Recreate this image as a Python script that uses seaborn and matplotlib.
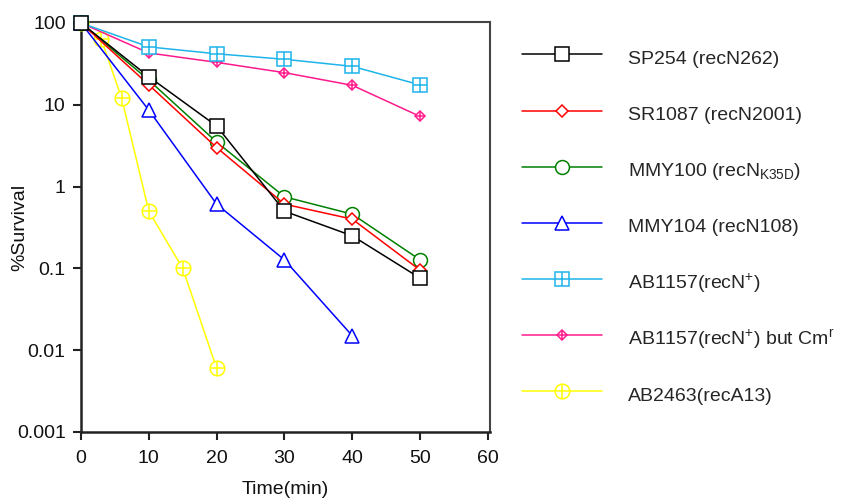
import matplotlib
matplotlib.use("Agg")
import matplotlib.pyplot as plt
from matplotlib.lines import Line2D
import seaborn as sns
import pandas as pd

# ---- data ----
x_six = [0, 10, 20, 30, 40, 50]
sp254 = [100, 22, 5.5, 0.50, 0.25, 0.076]
sr1087 = [100, 17.5, 3.0, 0.61, 0.40, 0.095]
mmy100 = [100, 20, 3.5, 0.75, 0.46, 0.127]
x_mmy104 = [0, 10, 20, 30, 40]
mmy104 = [100, 8.6, 0.61, 0.127, 0.015]
ab1157 = [100, 51, 42, 36, 29.5, 17.5]
ab1157_cm = [100, 43, 33, 24.7, 17.3, 7.2]
x_ab2463 = [0, 3, 6, 10, 15, 20]
ab2463 = [100, 63, 12, 0.5, 0.1, 0.006]

labels = [
    "SP254 (recN262)",
    "SR1087 (recN2001)",
    r"MMY100 (recN$_{\mathregular{K35D}}$)",
    "MMY104 (recN108)",
    r"AB1157(recN$^{\mathregular{+}}$)",
    r"AB1157(recN$^{\mathregular{+}}$) but Cm$^{\mathregular{r}}$",
    "AB2463(recA13)",
]
xs = [x_six, x_six, x_six, x_mmy104, x_six, x_six, x_ab2463]
ys = [sp254, sr1087, mmy100, mmy104, ab1157, ab1157_cm, ab2463]
colors = ["#000000", "#ff0000", "#008000", "#0000ff", "#1eb4ea", "#ff1a8c", "#ffff00"]
markers = ["s", "D", "o", "^", "s", "D", "o"]
msizes = [10.5, 5.8, 10, 9.5, 9.6, 5.2, 10.5]
cross = [False, False, False, False, True, True, True]
tick_vals = [0.001, 0.01, 0.1, 1, 10, 100]
tick_labels = ["0.001", "0.01", "0.1", "1", "10", "100"]
x_ticks = [0, 10, 20, 30, 40, 50, 60]

sns.set_style("ticks")
plt.rcParams["font.family"] = ["Liberation Sans", "DejaVu Sans"]
plt.rcParams["mathtext.fontset"] = "custom"
plt.rcParams["mathtext.rm"] = "Liberation Sans"
plt.rcParams["mathtext.it"] = "Liberation Sans:italic"
plt.rcParams["mathtext.bf"] = "Liberation Sans:bold"

fig = plt.figure(figsize=(8.42, 4.98), dpi=100)
ax = fig.add_axes([81 / 842, 1 - 432 / 498, (490 - 81) / 842, (432 - 22) / 498])

handles = []
order = list(range(len(labels)))[::-1]
for i in order:
    df = pd.DataFrame({"x": xs[i], "y": ys[i]})
    sns.lineplot(data=df, x="x", y="y", ax=ax, color=colors[i], marker=markers[i],
                 markersize=msizes[i], markerfacecolor="white", markeredgecolor=colors[i],
                 markeredgewidth=1.1, linewidth=1.1, sort=False, legend=False,
                 estimator=None, zorder=3 + (len(labels) - i), clip_on=False)
    if cross[i]:
        pm = msizes[i] * (1.414 if markers[i] == "D" else 1.0)
        sns.scatterplot(data=df, x="x", y="y", ax=ax, marker="+", s=pm ** 2,
                        color=colors[i], linewidth=1.1, legend=False,
                        zorder=3.5 + (len(labels) - i), clip_on=False)

for i in range(len(labels)):
    ln = Line2D([], [], color=colors[i], marker=markers[i], markersize=msizes[i],
                markerfacecolor="white", markeredgecolor=colors[i], markeredgewidth=1.1,
                linewidth=1.1)
    if cross[i]:
        pm = msizes[i] * (1.414 if markers[i] == "D" else 1.0)
        pl = Line2D([], [], color=colors[i], marker="+", markersize=pm, linestyle="none",
                    markeredgewidth=1.1)
        handles.append((ln, pl))
    else:
        handles.append(ln)

ax.set_yscale("log")
ax.set_xlim(0, 60.3)
ax.set_ylim(0.001, 10 ** 2.012)
ax.set_yticks(tick_vals)
ax.set_yticklabels(tick_labels)
ax.yaxis.set_minor_locator(matplotlib.ticker.NullLocator())
ax.set_xticks(x_ticks)
ax.set_xticklabels([str(t) for t in x_ticks])
ax.tick_params(axis="both", labelsize=14, length=6, width=1.5, color="#222222",
               direction="out", pad=5, labelcolor="#111111")
ax.tick_params(axis="x", pad=7)
ax.set_xlabel("Time(min)", fontsize=14, labelpad=10, color="#111111")
ax.set_ylabel("%Survival", fontsize=14, color="#111111")
ax.yaxis.set_label_coords(-0.13, 0.5)
for s in ["left", "bottom"]:
    ax.spines[s].set_linewidth(1.8)
    ax.spines[s].set_color("#222222")
for s in ["top", "right"]:
    ax.spines[s].set_visible(True)
    ax.spines[s].set_linewidth(1.5)
    ax.spines[s].set_color("#444444")

leg = fig.legend(handles, labels, loc="upper left", bbox_to_anchor=(522 / 842, 1 - 45 / 498),
                 frameon=False, fontsize=14, handlelength=4.12, handletextpad=1.34,
                 handleheight=1.6, labelspacing=1.6, borderpad=0, borderaxespad=0)

fig.savefig("out.png", dpi=100)
